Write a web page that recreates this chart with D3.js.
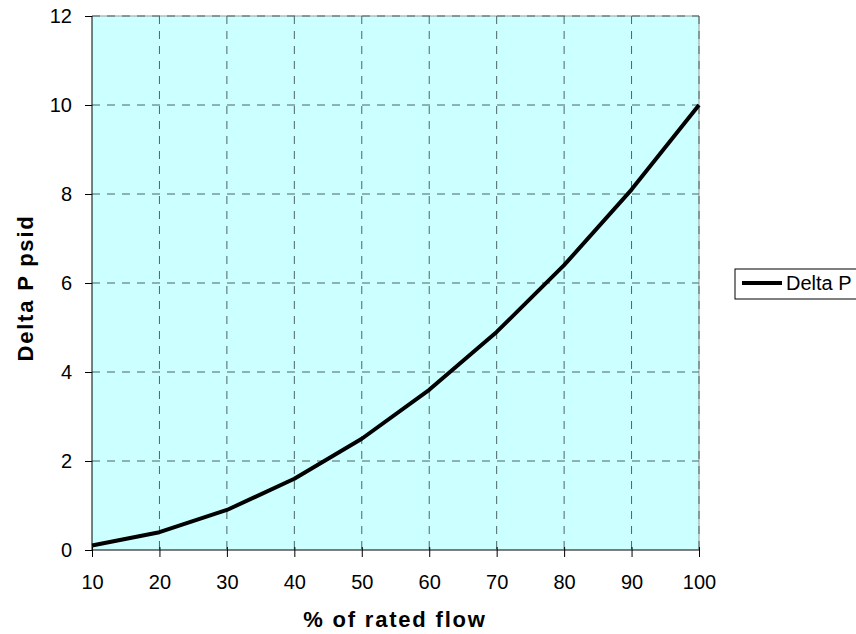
<!DOCTYPE html>
<html>
<head>
<meta charset="utf-8">
<script src="https://cdn.jsdelivr.net/npm/d3@7"></script>
<style>
  body { margin: 0; background: #fff; overflow: hidden; }
  text { font-family: "Liberation Sans", Arial, sans-serif; }
</style>
</head>
<body>
<div id="chart"></div>
<script>
// % of rated flow vs Delta P psid
const flow = [10, 20, 30, 40, 50, 60, 70, 80, 90, 100];
const deltaP = [0.1, 0.4, 0.9, 1.6, 2.5, 3.6, 4.9, 6.4, 8.1, 10.0];
const yTicks = [0, 2, 4, 6, 8, 10, 12];
const seriesName = 'Delta P';

const width = 856, height = 634;
const margin = { top: 16, right: 157, bottom: 84, left: 92 };
const w = width - margin.left - margin.right;
const h = height - margin.top - margin.bottom;

const svg = d3.select('#chart').append('svg')
    .attr('width', width)
    .attr('height', height);

const g = svg.append('g')
    .attr('transform', `translate(${margin.left},${margin.top})`);

const x = d3.scaleLinear().domain([10, 100]).range([0, w]);
const y = d3.scaleLinear().domain([0, 12]).range([h, 0]);

// plot background
g.append('rect')
    .attr('width', w)
    .attr('height', h)
    .attr('fill', '#ccffff');

// grey top / right border
g.append('path')
    .attr('d', `M0,0H${w}V${h}`)
    .attr('fill', 'none')
    .attr('stroke', '#999');

// grid
g.selectAll('.hgrid')
    .data(yTicks.filter(d => d > 0))
    .enter().append('line')
    .attr('x1', 0).attr('x2', w)
    .attr('y1', d => y(d)).attr('y2', d => y(d))
    .attr('stroke', '#4d6464')
    .attr('stroke-dasharray', '8,7');

g.selectAll('.vgrid')
    .data(flow.filter(d => d > 10))
    .enter().append('line')
    .attr('x1', d => x(d)).attr('x2', d => x(d))
    .attr('y1', 0).attr('y2', h)
    .attr('stroke', '#4d6464')
    .attr('stroke-dasharray', '8,7');

// axes
const xAxis = d3.axisBottom(x).tickValues(flow).tickSize(7).tickPadding(18);
const yAxis = d3.axisLeft(y).tickValues(yTicks).tickSize(7).tickPadding(13);

const gx = g.append('g')
    .attr('transform', `translate(0,${h})`)
    .call(xAxis);
gx.select('.domain').attr('stroke', '#000').attr('d', `M0,0H${w}`);
gx.selectAll('.tick line').attr('y1', -3).attr('y2', 7);

const gy = g.append('g').call(yAxis);
gy.select('.domain').attr('stroke', '#000').attr('d', `M0,0V${h}`);

svg.selectAll('.tick text')
    .style('font-size', '20px')
    .attr('fill', '#000');

// line
const line = d3.line()
    .x((d, i) => x(flow[i]))
    .y(d => y(d));

g.append('path')
    .datum(deltaP)
    .attr('d', line)
    .attr('fill', 'none')
    .attr('stroke', '#000')
    .attr('stroke-width', 4)
    .attr('stroke-linejoin', 'round');

// axis titles
svg.append('text')
    .attr('x', 395)
    .attr('y', 627)
    .attr('text-anchor', 'middle')
    .style('font-size', '22px')
    .style('font-weight', 'bold')
    .style('letter-spacing', '1.8px')
    .text('% of rated flow');

svg.append('text')
    .attr('transform', `translate(33,288) rotate(-90)`)
    .attr('text-anchor', 'middle')
    .style('font-size', '22px')
    .style('font-weight', 'bold')
    .style('letter-spacing', '1.8px')
    .text('Delta P psid');

// legend
const lg = svg.append('g').attr('transform', 'translate(735,269)');
lg.append('rect')
    .attr('width', 135)
    .attr('height', 30)
    .attr('fill', '#fff')
    .attr('stroke', '#000');
lg.append('line')
    .attr('x1', 7).attr('x2', 47)
    .attr('y1', 14).attr('y2', 14)
    .attr('stroke', '#000')
    .attr('stroke-width', 4);
lg.append('text')
    .attr('x', 51)
    .attr('y', 21)
    .style('font-size', '20px')
    .text(seriesName);
</script>
</body>
</html>
